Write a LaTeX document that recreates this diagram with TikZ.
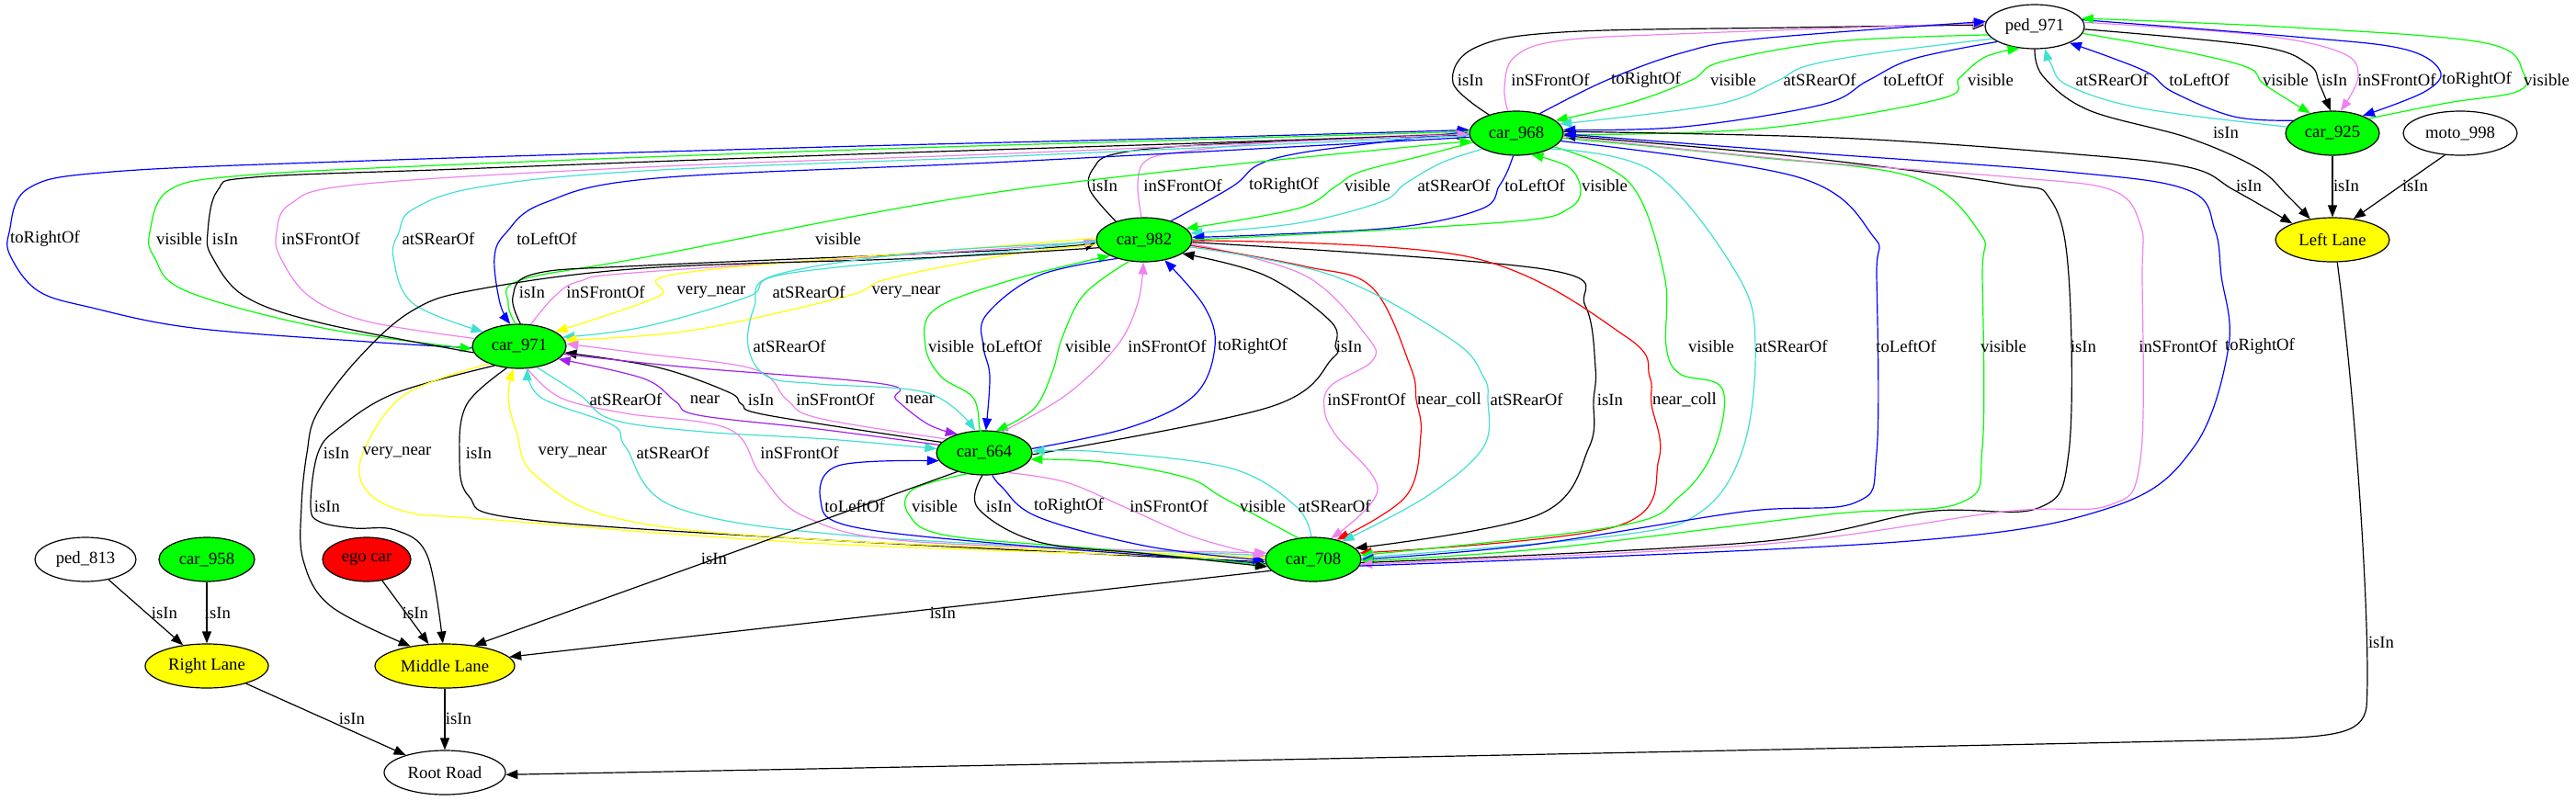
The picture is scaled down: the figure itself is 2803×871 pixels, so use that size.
\documentclass[tikz,border=0pt]{standalone}
\usepackage{fontspec}
\setmainfont{Liberation Serif}
\usetikzlibrary{arrows.meta,shapes.geometric}
\definecolor{gvgreen}{RGB}{0,255,0}
\definecolor{gvturq}{RGB}{64,224,208}
\definecolor{gvviolet}{RGB}{238,130,238}
\definecolor{gvblue}{RGB}{0,0,255}
\definecolor{gvyellow}{RGB}{255,255,0}
\definecolor{gvred}{RGB}{255,0,0}
\definecolor{gvpurple}{RGB}{160,32,240}
\tikzset{
  nd/.style={ellipse, draw=black, line width=1.2pt, inner sep=0pt, minimum height=48pt, font=\fontsize{18.7pt}{22pt}\selectfont},
  lb/.style={inner sep=0pt, font=\fontsize{18.7pt}{22pt}\selectfont},
  e/.style={line width=1.2pt, -{Triangle[length=13pt,width=10pt]}},
  ek/.style={e, draw=black},
  eg/.style={e, draw=gvgreen},
  et/.style={e, draw=gvturq},
  ev/.style={e, draw=gvviolet},
  eb/.style={e, draw=gvblue},
  ey/.style={e, draw=gvyellow},
  er/.style={e, draw=gvred},
  ep/.style={e, draw=gvpurple},
  sm/.style={smooth, tension=0.6}
}
\begin{document}
\begin{tikzpicture}[x=1pt,y=-1pt]
\useasboundingbox (0,0) rectangle (2803,871);
% nodes
\node[nd, fill=white, minimum width=108pt] (ped971) at (2214,29) {ped\_971};
\node[nd, fill=gvgreen, minimum width=102pt] (car968) at (1650,145) {car\_968};
\node[nd, fill=gvgreen, minimum width=102pt] (car925) at (2538,145) {car\_925};
\node[nd, fill=white, minimum width=124pt] (moto998) at (2677,145) {moto\_998};
\node[nd, fill=gvyellow, minimum width=124pt] (leftlane) at (2538,261) {Left Lane};
\node[nd, fill=gvgreen, minimum width=104pt] (car982) at (1245,261) {car\_982};
\node[nd, fill=gvgreen, minimum width=102pt] (car971) at (565,377) {car\_971};
\node[nd, fill=gvgreen, minimum width=104pt] (car664) at (1071,493) {car\_664};
\node[nd, fill=gvgreen, minimum width=104pt] (car708) at (1429,609) {car\_708};
\node[nd, fill=white, minimum width=110pt] (ped813) at (93,609) {ped\_813};
\node[nd, fill=gvgreen, minimum width=104pt] (car958) at (225,609) {car\_958};
\node[nd, fill=gvred, minimum width=96pt] (egocar) at (399,609) {ego car};
\node[nd, fill=gvyellow, minimum width=134pt] (rightlane) at (225,725) {Right Lane};
\node[nd, fill=gvyellow, minimum width=152pt] (middlelane) at (484,725) {Middle Lane};
\node[nd, fill=white, minimum width=132pt] (rootroad) at (484,841) {Root Road};

% ---- Group A: car968 <-> ped971
\draw[ek] plot[sm] coordinates {(car968.146) (1581,90) (1605,52) (1700,35) (1950,30) (ped971.178)};
\draw[ev] plot[sm] coordinates {(car968.111) (1637,95) (1648,62) (1700,44) (1850,36) (ped971.176)};
\draw[eb] plot[sm] coordinates {(car968.40) (1749,87) (1832,57) (1915,42) (ped971.174)};
\draw[eg] plot[sm] coordinates {(ped971.190) (1999,45) (1874,67) (1841,87) (1774,112) (car968.18)};
\draw[et] plot[sm] coordinates {(ped971.196) (2040,58) (1965,72) (1932,89) (1866,114) (car968.12)};
\draw[eb] plot[sm] coordinates {(ped971.202) (2082,64) (2032,88) (1982,114) (1832,138) (car968.4)};
\draw[eg] plot[sm] coordinates {(car968.-2) (1915,140) (2110,108) (2132,85) (2160,62) (ped971.235)};
% ---- Group B: ped971 <-> car925
\draw[et] plot[sm] coordinates {(car925.172) (2331,118) (2250,93) (2232,70) (ped971.295)};
\draw[eb] plot[sm] coordinates {(car925.162) (2431,127) (2364,100) (2339,80) (2298,63) (ped971.335)};
\draw[eg] plot[sm] coordinates {(ped971.352) (2381,57) (2447,74) (2464,92) (car925.138)};
\draw[ek] plot[sm] coordinates {(ped971.357) (2456,50) (2512,70) (2524,92) (car925.95)};
\draw[ev] plot[sm] coordinates {(ped971.5) (2456,38) (2547,57) (2566,83) (car925.70)};
\draw[eb] plot[sm] coordinates {(ped971.8) (2497,40) (2614,53) (2655,77) (2638,100) (car925.30)};
\draw[eg] plot[sm] coordinates {(car925.22) (2663,112) (2738,100) (2746,80) (2705,47) (2497,30) (ped971.10)};
% ---- Group C: Left Lane
\draw[ek] plot[sm] coordinates {(ped971.270) (2223,83) (2273,120) (2381,150) (2456,183) (2489,213) (leftlane.137)};
\draw[ek] plot[sm] coordinates {(car968.2) (1999,150) (2248,167) (2381,182) (2431,207) (leftlane.158)};
\draw[ek] (car925) -- (leftlane);
\draw[ek] (moto998.235) -- (leftlane.45);
\draw[ek] (leftlane.282) .. controls (2565,450) and (2580,700) .. (2575,770) .. controls (2570,800) and (2540,802) .. (2450,805) .. controls (2000,815) and (1000,835) .. (rootroad.-2);
% ---- Group D: car968 <-> car982
\draw[ek] plot[sm] coordinates {(car982.147) (1186,207) (1190,183) (1216,167) (1323,157) (car968.182)};
\draw[ev] plot[sm] coordinates {(car982.97) (1238,200) (1247,175) (1288,165) (1412,153) (car968.180)};
\draw[eb] plot[sm] coordinates {(car982.35) (1341,203) (1368,180) (1412,167) (1502,155) (car968.178)};
\draw[eg] plot[sm] coordinates {(car968.192) (1546,170) (1480,187) (1453,203) (1412,227) (car982.15)};
\draw[et] plot[sm] coordinates {(car968.205) (1569,177) (1529,200) (1502,220) (1412,243) (car982.8)};
\draw[eb] plot[sm] coordinates {(car968.262) (1640,187) (1631,203) (1613,227) (1524,247) (1368,256) (car982.3)};
\draw[eg] plot[sm] coordinates {(car982.0) (1457,253) (1658,240) (1707,227) (1720,207) (1707,182) (car968.-55)};
% ---- Group E: car968 <-> car971
\draw[eb] plot[sm] coordinates {(car971.182) (400,372) (210,357) (100,335) (42,317) (12,280) (10,253) (31,205) (122,187) (400,175) (900,160) (1300,150) (car968.176)};
\draw[eg] plot[sm] coordinates {(car968.178) (1300,152) (900,164) (500,179) (265,191) (184,207) (163,253) (168,280) (203,317) (351,357) (car971.183)};
\draw[ek] plot[sm] coordinates {(car971.188) (351,352) (267,323) (231,280) (226,253) (237,207) (276,193) (500,184) (900,169) (1300,156) (car968.181)};
\draw[ev] plot[sm] coordinates {(car971.170) (400,350) (337,323) (305,280) (301,253) (316,222) (388,201) (700,182) (1100,167) (car968.181)};
\draw[et] plot[sm] coordinates {(car968.183) (1100,170) (700,186) (520,204) (449,228) (434,253) (428,280) (449,330) (car971.158)};
\draw[eb] plot[sm] coordinates {(car968.185) (1100,176) (714,194) (592,221) (551,253) (538,280) (544,330) (car971.112)};
\draw[eg] plot[sm] coordinates {(car971.100) (553,330) (566,305) (702,280) (1100,207) (car968.190)};
% ---- Group F: car971 <-> car982
\draw[ek] plot[sm] coordinates {(car971.87) (558,323) (582,298) (702,289) (1100,272) (car982.183)};
\draw[ev] plot[sm] coordinates {(car971.62) (603,323) (631,306) (702,296) (1100,270) (car982.180)};
\draw[ey] plot[sm] coordinates {(car982.178) (1100,267) (744,297) (716,323) (car971.22)};
\draw[et] plot[sm] coordinates {(car982.181) (1100,273) (856,298) (814,323) (700,356) (car971.12)};
\draw[ey] plot[sm] coordinates {(car982.186) (1100,277) (968,303) (919,323) (750,360) (car971.8)};
% ---- Middle Lane from car982 / car971
\draw[ek] plot[sm] coordinates {(car982.190) (1000,281) (700,292) (520,315) (449,338) (390,390) (345,450) (334,493) (328,551) (330,610) (360,660) (middlelane.150)};
\draw[ek] plot[sm] coordinates {(car971.218) (430,428) (370,465) (346,493) (338,551) (348,568) (385,575) (430,577) (465,605) (middlelane.95)};
% ---- Group G: car971 <-> car664
\draw[et] plot[sm] coordinates {(car971.-50) (631,430) (667,457) (765,470) (900,478) (car664.175)};
\draw[ep] plot[sm] coordinates {(car664.170) (890,467) (760,452) (735,437) (700,412) (car971.-18)};
\draw[ek] plot[sm] coordinates {(car664.166) (835,452) (807,440) (793,427) (716,400) (car971.-8)};
\draw[ev] plot[sm] coordinates {(car664.160) (890,455) (856,435) (821,402) (700,385) (car971.3)};
\draw[ep] plot[sm] coordinates {(car971.-10) (750,400) (961,418) (975,435) (1010,462) (car664.145)};
% ---- Group H: car971 <-> car708
\draw[ek] plot[sm] coordinates {(car971.240) (508,440) (500,493) (510,540) (568,565) (900,588) (car708.183)};
\draw[ey] plot[sm] coordinates {(car971.210) (440,430) (395,493) (398,533) (442,557) (526,565) (900,592) (car708.179)};
\draw[ey] plot[sm] coordinates {(car708.177) (900,588) (674,565) (582,517) (562,470) (553,433) (car971.255)};
\draw[et] plot[sm] coordinates {(car708.175) (950,585) (737,553) (681,487) (667,463) (589,433) (car971.290)};
\draw[ev] plot[sm] coordinates {(car971.-70) (610,433) (681,450) (793,467) (828,517) (877,563) (1000,590) (car708.172)};
% ---- Group I: car982 <-> car664
\draw[et] plot[sm] coordinates {(car982.183) (1000,275) (842,300) (821,333) (814,377) (835,410) (891,418) (1010,428) (car664.112)};
\draw[eg] plot[sm] coordinates {(car664.97) (1066,467) (1059,433) (1024,410) (1007,377) (1017,337) (1100,305) (car982.205)};
\draw[eb] plot[sm] coordinates {(car982.215) (1130,300) (1073,343) (1070,377) (1077,410) (car664.86)};
\draw[eg] plot[sm] coordinates {(car982.235) (1180,320) (1156,367) (1145,405) (1125,445) (car664.62)};
\draw[ev] plot[sm] coordinates {(car664.50) (1160,430) (1215,377) (1238,330) (car982.268)};
\draw[eb] plot[sm] coordinates {(car664.5) (1230,465) (1300,430) (1322,377) (1310,333) (car982.-45)};
\draw[ek] plot[sm] coordinates {(car664.-2) (1382,443) (1450,390) (1453,377) (1448,350) (1377,300) (car982.-20)};
% ---- Group J: car982 -> car708
\draw[ev] plot[sm] coordinates {(car982.-5) (1420,300) (1488,367) (1493,393) (1448,420) (1441,445) (1453,473) (1499,533) (car708.50)};
\draw[er] plot[sm] coordinates {(car982.-7) (1420,290) (1493,313) (1535,400) (1541,435) (1546,473) (1530,540) (car708.40)};
\draw[et] plot[sm] coordinates {(car982.-9) (1450,300) (1580,370) (1614,410) (1619,435) (1614,487) (1553,540) (car708.32)};
\draw[ek] plot[sm] coordinates {(car982.-3) (1680,293) (1725,333) (1736,400) (1734,435) (1729,487) (1675,560) (car708.15)};
\draw[er] plot[sm] coordinates {(car982.-1) (1600,280) (1770,367) (1795,410) (1797,440) (1805,500) (1759,573) (car708.8)};
% ---- Group K: car968 <-> car708
\draw[eg] plot[sm] coordinates {(car968.-20) (1774,200) (1811,300) (1813,377) (1828,407) (1874,423) (1866,487) (1828,540) (1759,573) (car708.5)};
\draw[et] plot[sm] coordinates {(car968.-25) (1799,187) (1891,300) (1910,377) (1897,487) (1851,557) (1759,583) (car708.2)};
\draw[eb] plot[sm] coordinates {(car968.-10) (1957,193) (2038,257) (2042,300) (2042,493) (2019,547) (1897,557) (1667,593) (car708.0)};
\draw[eg] plot[sm] coordinates {(car968.-6) (1900,170) (2082,193) (2154,253) (2157,300) (2157,487) (2134,547) (1989,560) (1683,597) (car708.-2)};
\draw[ek] plot[sm] coordinates {(car708.-4) (1912,590) (2096,557) (2218,553) (2251,493) (2251,300) (2231,217) (2181,200) (1950,170) (car968.-3)};
\draw[ev] plot[sm] coordinates {(car968.-4) (1960,175) (2190,193) (2298,207) (2329,245) (2331,300) (2329,500) (2295,550) (2180,557) (1912,593) (car708.-6)};
\draw[eb] plot[sm] coordinates {(car708.-8) (2065,590) (2295,553) (2387,487) (2425,377) (2417,300) (2410,250) (2381,207) (2248,187) (1950,165) (car968.-1)};
% ---- Group L: car664 <-> car708
\draw[eb] plot[sm] coordinates {(car708.185) (1102,593) (926,573) (893,545) (912,507) (car664.190)};
\draw[eg] plot[sm] coordinates {(car664.230) (993,533) (989,560) (1031,583) (1200,598) (car708.187)};
\draw[ek] plot[sm] coordinates {(car664.265) (1064,553) (1130,590) (1250,603) (car708.189)};
\draw[eb] plot[sm] coordinates {(car664.290) (1090,530) (1130,563) (1250,595) (car708.181)};
\draw[ev] plot[sm] coordinates {(car664.320) (1160,525) (1226,553) (1300,585) (car708.176)};
\draw[eg] plot[sm] coordinates {(car708.125) (1333,543) (1291,520) (1200,503) (car664.-8)};
\draw[et] plot[sm] coordinates {(car708.95) (1410,551) (1340,510) (1200,492) (car664.2)};
% ---- to Middle Lane / Right Lane / Root Road
\draw[ek] (car664.215) -- (middlelane.35);
\draw[ek] (car708.195) -- (middlelane.8);
\draw[ek] (ped813) -- (rightlane);
\draw[ek] (car958) -- (rightlane);
\draw[ek] (egocar) -- (middlelane);
\draw[ek] (rightlane) -- (rootroad);
\draw[ek] (middlelane) -- (rootroad);

% ---- labels
\node[lb] (la1) at (1600,87) {isIn};
\node[lb] (la2) at (1687,87) {inSFrontOf};
\node[lb] (la3) at (1791,87) {toRightOf};
\node[lb] (la4) at (1886,87) {visible};
\node[lb] (la5) at (1980,87) {atSRearOf};
\node[lb] (la6) at (2082,87) {toLeftOf};
\node[lb] (la7) at (2166,87) {visible};
\node[lb] (lb1) at (2298,87) {atSRearOf};
\node[lb] (lb2) at (2393,87) {toLeftOf};
\node[lb] (lb3) at (2487,87) {visible};
\node[lb] (lb4) at (2540,87) {isIn};
\node[lb] (lb5) at (2608,87) {inSFrontOf};
\node[lb] (lb6) at (2695,87) {toRightOf};
\node[lb] (lb7) at (2771,87) {visible};
\node[lb] (lc1) at (2422,144) {isIn};
\node[lb] (lc2) at (2447,202) {isIn};
\node[lb] (lc3) at (2553,202) {isIn};
\node[lb] (lc4) at (2628,202) {isIn};
\node[lb] (lc5) at (2591,699) {isIn};
\node[lb] (ld1) at (1202,202) {isIn};
\node[lb] (ld2) at (1287,202) {inSFrontOf};
\node[lb] (ld3) at (1397,202) {toRightOf};
\node[lb] (ld4) at (1488,202) {visible};
\node[lb] (ld5) at (1582,202) {atSRearOf};
\node[lb] (ld6) at (1670,202) {toLeftOf};
\node[lb] (ld7) at (1746,202) {visible};
\node[lb] (le1) at (49,260) {toRightOf};
\node[lb] (le2) at (195,260) {visible};
\node[lb] (le3) at (245,260) {isIn};
\node[lb] (le4) at (349,260) {inSFrontOf};
\node[lb] (le5) at (477,260) {atSRearOf};
\node[lb] (le6) at (595,260) {toLeftOf};
\node[lb] (le7) at (912,260) {visible};
\node[lb] (lf1) at (579,318) {isIn};
\node[lb] (lf2) at (659,318) {inSFrontOf};
\node[lb] (lf3) at (774,318) {very\_near};
\node[lb] (lf4) at (880,318) {atSRearOf};
\node[lb] (lf5) at (986,318) {very\_near};
\node[lb] (li1) at (859,377) {atSRearOf};
\node[lb] (li2) at (1035,377) {visible};
\node[lb] (li3) at (1101,377) {toLeftOf};
\node[lb] (li4) at (1184,377) {visible};
\node[lb] (li5) at (1270,377) {inSFrontOf};
\node[lb] (li6) at (1363,377) {toRightOf};
\node[lb] (li7) at (1468,377) {isIn};
\node[lb] (lk1) at (1862,377) {visible};
\node[lb] (lk2) at (1949,377) {atSRearOf};
\node[lb] (lk3) at (2074,377) {toLeftOf};
\node[lb] (lk4) at (2180,377) {visible};
\node[lb] (lk5) at (2267,377) {isIn};
\node[lb] (lk6) at (2370,377) {inSFrontOf};
\node[lb] (lk7) at (2459,377) {toRightOf};
\node[lb] (lg1) at (681,435) {atSRearOf};
\node[lb] (lg2) at (767,435) {near};
\node[lb] (lg3) at (828,435) {isIn};
\node[lb] (lg4) at (909,435) {inSFrontOf};
\node[lb] (lg5) at (1001,435) {near};
\node[lb] (lj1) at (1487,435) {inSFrontOf};
\node[lb] (lj2) at (1577,435) {near\_coll};
\node[lb] (lj3) at (1661,435) {atSRearOf};
\node[lb] (lj4) at (1752,435) {isIn};
\node[lb] (lj5) at (1833,435) {near\_coll};
\node[lb] (lh1) at (366,493) {isIn};
\node[lb] (lh2) at (432,493) {very\_near};
\node[lb] (lh3) at (521,493) {isIn};
\node[lb] (lh4) at (623,493) {very\_near};
\node[lb] (lh5) at (732,493) {atSRearOf};
\node[lb] (lh6) at (870,493) {inSFrontOf};
\node[lb] (lh7) at (356,551) {isIn};
\node[lb] (ll1) at (930,551) {toLeftOf};
\node[lb] (ll2) at (1017,551) {visible};
\node[lb] (ll3) at (1087,551) {isIn};
\node[lb] (ll4) at (1163,551) {toRightOf};
\node[lb] (ll5) at (1272,551) {inSFrontOf};
\node[lb] (ll6) at (1374,551) {visible};
\node[lb] (ll7) at (1452,551) {atSRearOf};
\node[lb] (lm1) at (777,608) {isIn};
\node[lb] (ln1) at (1026,667) {isIn};
\node[lb] (lo1) at (179,667) {isIn};
\node[lb] (lo2) at (237,667) {isIn};
\node[lb] (lo3) at (452,667) {isIn};
\node[lb] (lo4) at (383,782) {isIn};
\node[lb] (lo5) at (499,782) {isIn};
\end{tikzpicture}
\end{document}
